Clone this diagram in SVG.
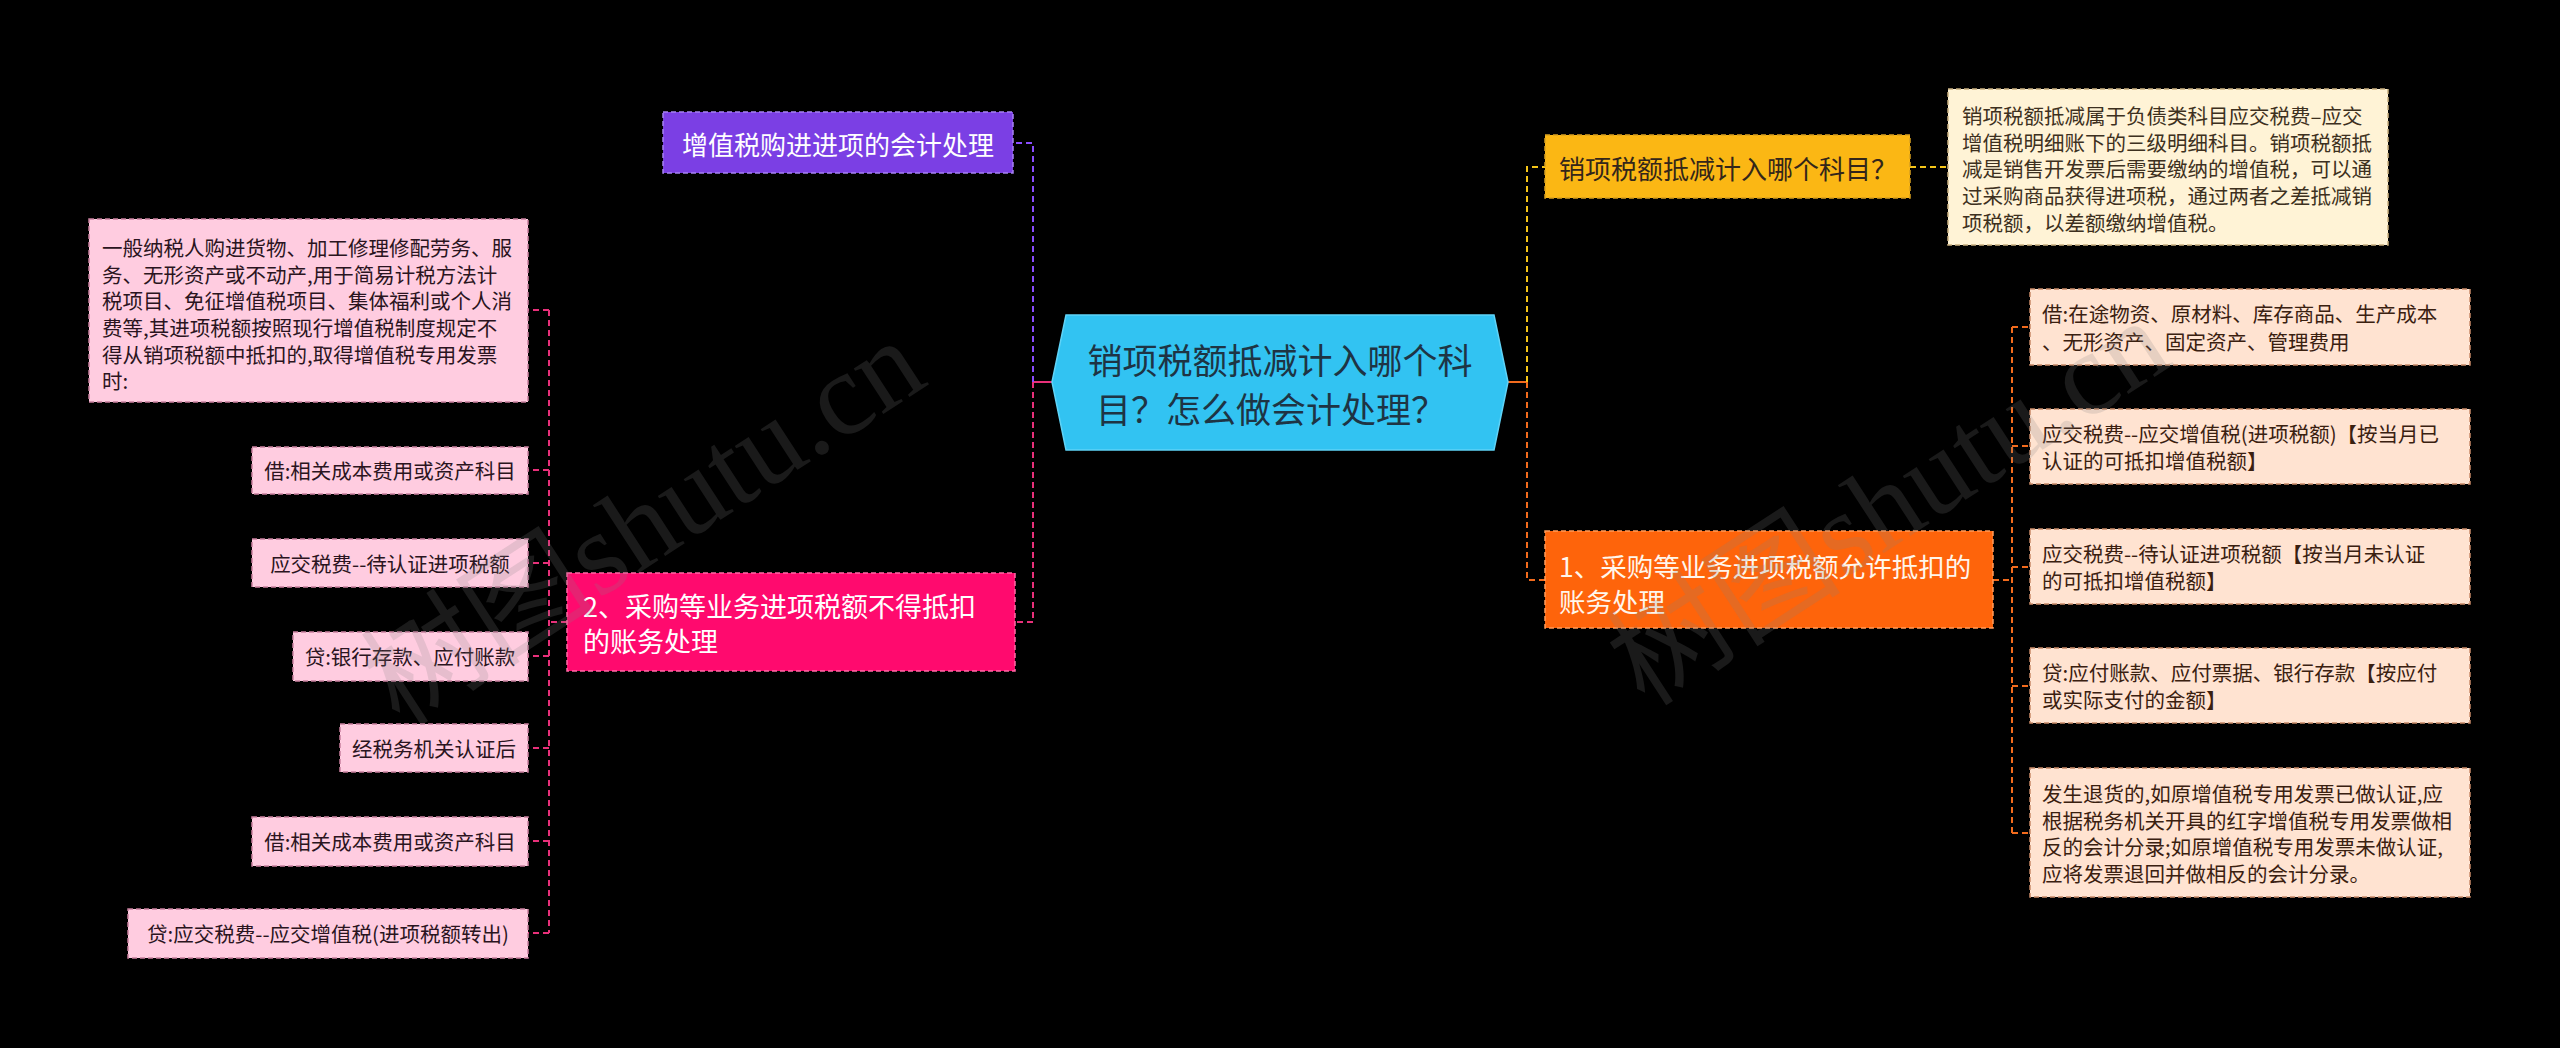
<svg xmlns="http://www.w3.org/2000/svg" width="2560" height="1048" viewBox="0 0 2560 1048">
<style>
text{font-family:"Noto Sans CJK SC","Liberation Sans",sans-serif;}
.c{fill:none;stroke-width:2;stroke-dasharray:6 4;}
.s{fill:none;stroke-width:2;}
.pu{stroke:#8a4dff;}
.mg{stroke:#e8307a;}
.ye{stroke:#f5c518;}
.or{stroke:#f26b1d;}
.pk rect{fill:#ffcce0;stroke:#c9809f;stroke-width:1.5;stroke-dasharray:5 3;}
.pk text{fill:#2a1420;font-size:20.5px;}
.pc rect{fill:#ffe3d1;stroke:#c98a68;stroke-width:1.5;stroke-dasharray:5 3;}
.pc text{fill:#3a2010;font-size:20.5px;}
.wm{font-family:"Liberation Serif","Noto Sans CJK SC",serif;font-size:118px;fill:#808080;fill-opacity:0.2;}
</style>
<rect width="2560" height="1048" fill="#000"/>

<g id="connectors">
<path class="s mg" d="M1052,382 H1033"/>
<path class="c pu" d="M1033,382 V143 H1013"/>
<path class="c mg" d="M1033,382 V622 H1015"/>
<path class="c mg" d="M567,622 H549"/>
<path class="c mg" d="M549,310 V933"/>
<path class="c mg" d="M549,310 H528 M549,470 H528 M549,563 H528 M549,656 H528 M549,748 H528 M549,841 H528 M549,933 H528"/>
<path class="s or" d="M1508,382 H1527"/>
<path class="c ye" d="M1527,382 V167 H1545"/>
<path class="c ye" d="M1910,167 H1948"/>
<path class="c or" d="M1527,382 V580 H1545"/>
<path class="c or" d="M1993,580 H2012"/>
<path class="c or" d="M2012,327 V833"/>
<path class="c or" d="M2012,327 H2030 M2012,446 H2030 M2012,567 H2030 M2012,686 H2030 M2012,833 H2030"/>
</g>

<g id="root">
<polygon points="1052,382 1066,315 1494,315 1508,382 1494,450 1066,450" fill="#32c3f2" stroke="#5fd3f7" stroke-width="1.5"/>
<text x="1280" y="358" font-size="35" fill="#1e3444" text-anchor="middle" dominant-baseline="central">销项税额抵减计入哪个科</text>
<text x="1271" y="407" font-size="35" fill="#1e3444" text-anchor="middle" dominant-baseline="central">目？怎么做会计处理？</text>
</g>

<g id="n-purple">
<rect x="663" y="112" width="350" height="61" fill="#7b3fe4" stroke="#a783f2" stroke-width="1.5" stroke-dasharray="5 3"/>
<text x="838" y="143" font-size="26" fill="#fff" text-anchor="middle" dominant-baseline="central">增值税购进进项的会计处理</text>
</g>

<g id="n-magenta">
<rect x="567" y="573" width="448" height="98" fill="#ff0a6e" stroke="#ff6aa5" stroke-width="1.5" stroke-dasharray="5 3"/>
<text x="583" y="605" font-size="27" fill="#fff" dominant-baseline="central">2、采购等业务进项税额不得抵扣</text>
<text x="583" y="640" font-size="27" fill="#fff" dominant-baseline="central">的账务处理</text>
</g>

<g id="l1" class="pk">
<rect x="89" y="219" width="439" height="183"/>
<text x="102" y="247" dominant-baseline="central">一般纳税人购进货物、加工修理修配劳务、服</text>
<text x="102" y="274" dominant-baseline="central">务、无形资产或不动产,用于简易计税方法计</text>
<text x="102" y="300" dominant-baseline="central">税项目、免征增值税项目、集体福利或个人消</text>
<text x="102" y="327" dominant-baseline="central">费等,其进项税额按照现行增值税制度规定不</text>
<text x="102" y="354" dominant-baseline="central">得从销项税额中抵扣的,取得增值税专用发票</text>
<text x="102" y="380" dominant-baseline="central">时:</text>
</g>
<g id="l2" class="pk">
<rect x="252" y="447" width="276" height="47"/>
<text x="390" y="470" text-anchor="middle" dominant-baseline="central">借:相关成本费用或资产科目</text>
</g>
<g id="l3" class="pk">
<rect x="252" y="539" width="276" height="48"/>
<text x="390" y="563" text-anchor="middle" dominant-baseline="central">应交税费--待认证进项税额</text>
</g>
<g id="l4" class="pk">
<rect x="293" y="632" width="235" height="49"/>
<text x="410" y="656" text-anchor="middle" dominant-baseline="central">贷:银行存款、应付账款</text>
</g>
<g id="l5" class="pk">
<rect x="340" y="724" width="188" height="48"/>
<text x="434" y="748" text-anchor="middle" dominant-baseline="central">经税务机关认证后</text>
</g>
<g id="l6" class="pk">
<rect x="252" y="817" width="276" height="49"/>
<text x="390" y="841" text-anchor="middle" dominant-baseline="central">借:相关成本费用或资产科目</text>
</g>
<g id="l7" class="pk">
<rect x="128" y="909" width="400" height="49"/>
<text x="328" y="933" text-anchor="middle" dominant-baseline="central">贷:应交税费--应交增值税(进项税额转出)</text>
</g>

<g id="n-yellow">
<rect x="1545" y="135" width="365" height="63" fill="#fbb714" stroke="#d8a020" stroke-width="1.5" stroke-dasharray="5 3"/>
<text x="1728" y="167" font-size="26" fill="#33261a" text-anchor="middle" dominant-baseline="central">销项税额抵减计入哪个科目？</text>
</g>
<g id="n-cream">
<rect x="1948" y="89" width="440" height="156" fill="#fff3d6" stroke="#c9b080" stroke-width="1.5" stroke-dasharray="5 3"/>
<g font-size="20.5" fill="#3d3020">
<text x="1962" y="115" dominant-baseline="central">销项税额抵减属于负债类科目应交税费–应交</text>
<text x="1962" y="142" dominant-baseline="central">增值税明细账下的三级明细科目。销项税额抵</text>
<text x="1962" y="168" dominant-baseline="central">减是销售开发票后需要缴纳的增值税，可以通</text>
<text x="1962" y="195" dominant-baseline="central">过采购商品获得进项税，通过两者之差抵减销</text>
<text x="1962" y="222" dominant-baseline="central">项税额，以差额缴纳增值税。</text>
</g>
</g>

<g id="n-orange">
<rect x="1545" y="531" width="448" height="97" fill="#fe640b" stroke="#ff9a5a" stroke-width="1.5" stroke-dasharray="5 3"/>
<text x="1559" y="565" font-size="26.5" fill="#fff6ec" dominant-baseline="central">1、采购等业务进项税额允许抵扣的</text>
<text x="1559" y="600" font-size="26.5" fill="#fff6ec" dominant-baseline="central">账务处理</text>
</g>

<g id="r1" class="pc">
<rect x="2030" y="289" width="440" height="76"/>
<text x="2042" y="313" dominant-baseline="central">借:在途物资、原材料、库存商品、生产成本</text>
<text x="2042" y="341" dominant-baseline="central">、无形资产、固定资产、管理费用</text>
</g>
<g id="r2" class="pc">
<rect x="2030" y="409" width="440" height="75"/>
<text x="2042" y="433" dominant-baseline="central">应交税费--应交增值税(进项税额)【按当月已</text>
<text x="2042" y="460" dominant-baseline="central">认证的可抵扣增值税额】</text>
</g>
<g id="r3" class="pc">
<rect x="2030" y="529" width="440" height="75"/>
<text x="2042" y="553" dominant-baseline="central">应交税费--待认证进项税额【按当月未认证</text>
<text x="2042" y="580" dominant-baseline="central">的可抵扣增值税额】</text>
</g>
<g id="r4" class="pc">
<rect x="2030" y="648" width="440" height="75"/>
<text x="2042" y="672" dominant-baseline="central">贷:应付账款、应付票据、银行存款【按应付</text>
<text x="2042" y="699" dominant-baseline="central">或实际支付的金额】</text>
</g>
<g id="r5" class="pc">
<rect x="2030" y="768" width="440" height="129"/>
<text x="2042" y="793" dominant-baseline="central">发生退货的,如原增值税专用发票已做认证,应</text>
<text x="2042" y="820" dominant-baseline="central">根据税务机关开具的红字增值税专用发票做相</text>
<text x="2042" y="846" dominant-baseline="central">反的会计分录;如原增值税专用发票未做认证,</text>
<text x="2042" y="873" dominant-baseline="central">应将发票退回并做相反的会计分录。</text>
</g>

<text class="wm" transform="translate(400,728) rotate(-33)">树图shutu.cn</text>
<text class="wm" transform="translate(1645,708) rotate(-33)">树图shutu.cn</text>
</svg>
